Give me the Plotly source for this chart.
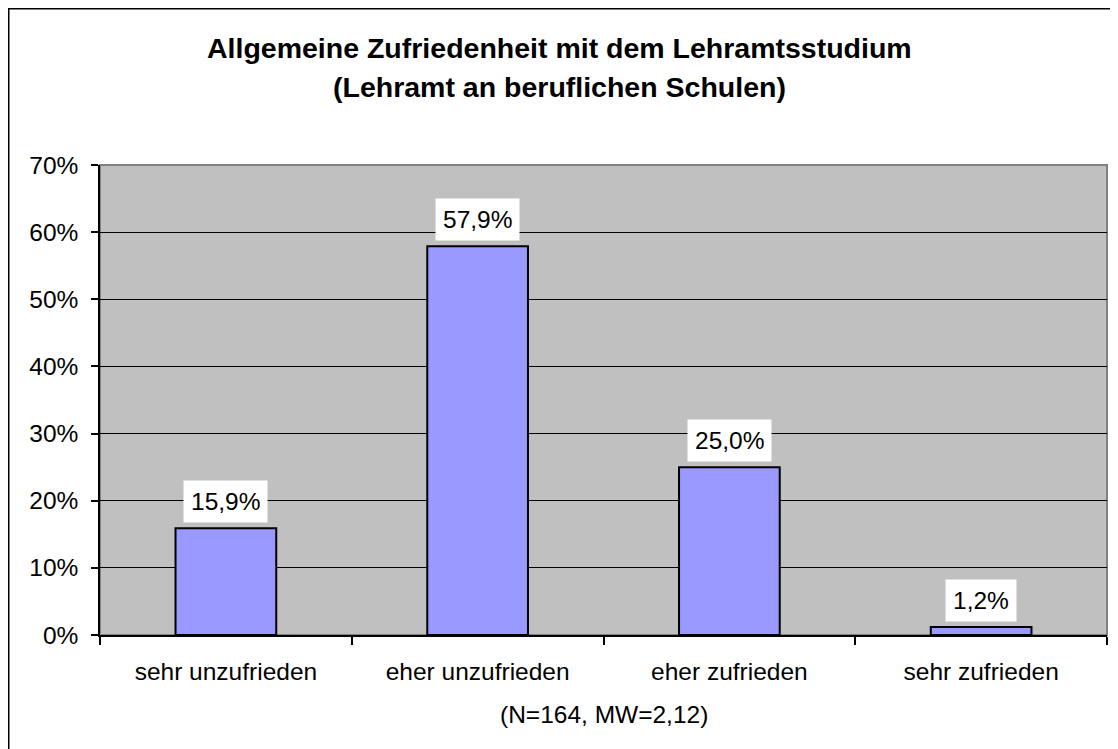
import plotly.graph_objects as go

# Zufriedenheit mit dem Lehramtsstudium (berufliche Schulen)
categories = ['sehr unzufrieden', 'eher unzufrieden', 'eher zufrieden', 'sehr zufrieden']
percent = [15.9, 57.9, 25.0, 1.2]
title_lines = ['Allgemeine Zufriedenheit mit dem Lehramtsstudium',
               '(Lehramt an beruflichen Schulen)']
footnote = '(N=164, MW=2,12)'

W, H = 1118, 749
OFF = 8  # page margin of the html body, positions below are page pixels
ML, MR, MT, MB = 100 - OFF, W - (1107 - OFF), 165 - OFF, H - (635 - OFF)
FONT = 'Liberation Sans, Arial, sans-serif'


def px_x(px):
    return (px - OFF - ML) / (W - ML - MR)


def px_y(py):
    return (H - MB - (py - OFF)) / (H - MT - MB)


def label(v):
    return f'{v:.1f}'.replace('.', ',') + '%'


fig = go.Figure()
fig.add_trace(go.Bar(x=categories, y=percent, width=0.4,
                     marker=dict(color='#9999FF', line=dict(color='black', width=2))))

annotations = []
for c, v in zip(categories, percent):
    annotations.append(dict(x=c, y=v, xref='x', yref='y', text=label(v), showarrow=False,
                            yanchor='bottom', yshift=5, bgcolor='white', borderpad=7,
                            font=dict(size=24.5, color='black', family=FONT)))

for line, ypx in zip(title_lines, [48, 87]):
    annotations.append(dict(x=px_x(559), y=px_y(ypx), xref='paper', yref='paper', text='<b>' + line + '</b>',
                            showarrow=False, xanchor='center', yanchor='middle',
                            font=dict(size=28.5, color='black', family=FONT)))
annotations.append(dict(x=0.5, y=px_y(714), xref='paper', yref='paper', text=footnote,
                        showarrow=False, xanchor='center', yanchor='middle',
                        font=dict(size=24.5, color='black', family=FONT)))

shapes = [
    # plot area frame (grey top/right)
    dict(type='rect', xref='paper', yref='paper', x0=0, x1=1, y0=0, y1=1,
         line=dict(color='#808080', width=2), layer='below'),
    # outer chart border (top and left only, rest is cut off)
    dict(type='line', xref='paper', yref='paper', x0=px_x(OFF), x1=px_x(W + 20), y0=px_y(OFF + 0.75), y1=px_y(OFF + 0.75),
         line=dict(color='black', width=1.5)),
    dict(type='line', xref='paper', yref='paper', x0=px_x(OFF + 0.75), x1=px_x(OFF + 0.75), y0=px_y(OFF), y1=px_y(H + 20),
         line=dict(color='black', width=1.5)),
]

fig.update_layout(
    width=W, height=H,
    margin=dict(l=ML, r=MR, t=MT, b=MB),
    paper_bgcolor='white', plot_bgcolor='#C0C0C0',
    showlegend=False, bargap=0.6,
    font=dict(family=FONT, size=24.5, color='black'),
    annotations=annotations, shapes=shapes,
)
fig.update_xaxes(showgrid=False, ticks='outside', tickson='boundaries', ticklen=8,
                 tickcolor='black', tickwidth=1.5, showline=True, linecolor='black', linewidth=1.5,
                 ticklabelstandoff=14, tickfont=dict(size=24.5))
fig.update_yaxes(range=[0, 70], dtick=10, ticksuffix='%', showgrid=True, gridcolor='black', gridwidth=1,
                 ticks='outside', ticklen=7, tickcolor='black', tickwidth=1.5,
                 showline=True, linecolor='black', linewidth=1.5, zeroline=False,
                 ticklabelstandoff=8, tickfont=dict(size=24.5))

fig.write_html('out.html')
